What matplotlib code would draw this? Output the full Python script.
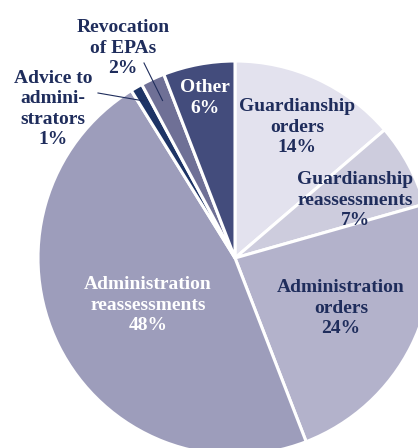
import matplotlib
matplotlib.use("Agg")
import matplotlib.pyplot as plt
import numpy as np

# ── Data ──────────────────────────────────────────────────────────────────────
categories = [
    "Guardianship\norders",
    "Guardianship\nreassessments",
    "Administration\norders",
    "Administration\nreassessments",
    "Advice to\nadmini-\nstrators",
    "Revocation\nof EPAs",
    "Other",
]
shares = [14, 7, 24, 48, 1, 2, 6]

# ── Palette ───────────────────────────────────────────────────────────────────
WEDGE_COLORS = ["#E3E2EE", "#CDCCDD", "#B3B2CB", "#9D9DBB",
                "#1E3466", "#6F7096", "#434C7C"]
NAVY = "#1F2D5C"
TEXT_COLORS = [NAVY, NAVY, NAVY, "white", NAVY, NAVY, "white"]

# label centres, in pixels from the top-left corner
LABEL_XY = [(297, 127), (355, 200), (341, 308), (148, 305),
            (53, 109), (123, 48), (205, 98)]

FONT = ["Liberation Serif", "DejaVu Serif"]

W, H = 418, 448
CX, CY, R = 235, H - 258, 197

fig = plt.figure(figsize=(W / 100, H / 100), dpi=100)
ax = fig.add_axes([0, 0, 1, 1])

wedges, _ = ax.pie(
    shares, colors=WEDGE_COLORS, startangle=90, counterclock=False,
    center=(CX, CY), radius=R, frame=True,
    wedgeprops=dict(edgecolor="white", linewidth=2.2),
)
ax.set_xlim(0, W)
ax.set_ylim(0, H)
ax.set_aspect("equal")
ax.axis("off")


def polar(w, frac):
    ang = np.deg2rad((w.theta1 + w.theta2) / 2)
    return CX + frac * R * np.cos(ang), CY + frac * R * np.sin(ang)


for name, pct, (x, y), col in zip(categories, shares, LABEL_XY, TEXT_COLORS):
    ax.text(x, H - y, f"{name}\n{pct}%", ha="center", va="center",
            fontsize=14, color=col, family=FONT, linespacing=1.25,
            fontweight="bold")

# leader lines for the two thin slices
LEADER_START = {4: (98, 93), 5: (144, 63)}
for i, (sx, sy) in LEADER_START.items():
    ex, ey = polar(wedges[i], 0.92 if i == 4 else 0.88)
    ax.plot([sx, ex], [H - sy, ey], color=NAVY, linewidth=0.8)

fig.savefig("out.png", dpi=100, facecolor="white")
